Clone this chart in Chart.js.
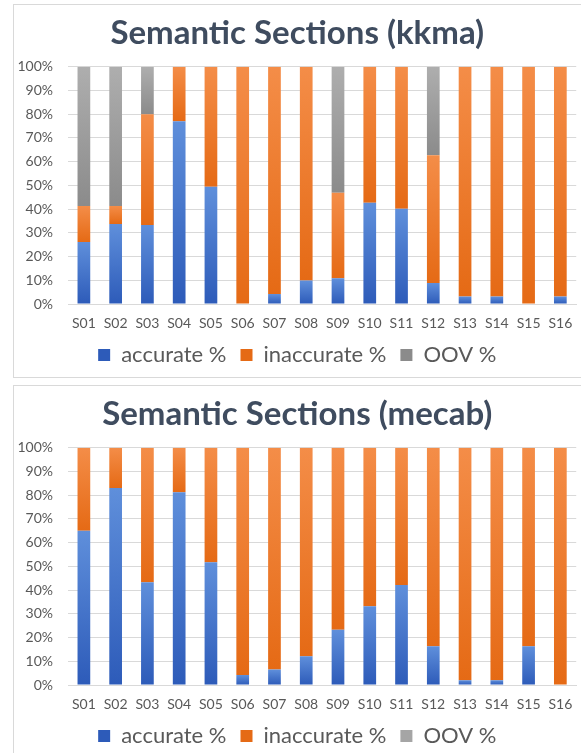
<!DOCTYPE html>
<html>
<head>
<meta charset="utf-8">
<script src="https://cdn.jsdelivr.net/npm/chart.js@4"></script>
<style>
  html, body { margin: 0; padding: 0; background: #ffffff; }
  body { width: 581px; height: 753px; overflow: hidden; position: relative; }
  .panel { position: absolute; left: 13px; width: 572px; border: 1px solid #D9D9D9; background: #ffffff; }
  #p1 { top: 4px; height: 372px; }
  #p2 { top: 385px; height: 380px; }
  .panel canvas { position: absolute; left: 0; top: 0; }
</style>
</head>
<body>
<div class="panel" id="p1"><canvas id="c1" width="570" height="371"></canvas></div>
<div class="panel" id="p2"><canvas id="c2" width="570" height="371"></canvas></div>
<script>
// Section categories
const sections = ['S01', 'S02', 'S03', 'S04', 'S05', 'S06', 'S07', 'S08',
                  'S09', 'S10', 'S11', 'S12', 'S13', 'S14', 'S15', 'S16'];
const seriesNames = ['accurate %', 'inaccurate %', 'OOV %'];

// kkma analyser (percent of tokens per section)
const kkmaAccurate   = [26.1, 33.7, 33.3, 77.0, 49.4, 0, 4.2, 9.9, 10.9, 42.7, 40.1, 8.9, 3.2, 3.2, 0, 3.2];
const kkmaInaccurate = [15.2, 7.6, 46.7, 23.0, 50.6, 100, 95.8, 90.1, 36.0, 57.3, 59.9, 53.8, 96.8, 96.8, 100, 96.8];
const kkmaOov        = [58.7, 58.7, 20.0, 0, 0, 0, 0, 0, 53.1, 0, 0, 37.3, 0, 0, 0, 0];

// mecab analyser
const mecabAccurate   = [65.0, 83.0, 43.3, 81.2, 51.7, 4.2, 6.5, 12.1, 23.3, 33.2, 42.1, 16.3, 2.0, 2.0, 16.3, 0];
const mecabInaccurate = [35.0, 17.0, 56.7, 18.8, 48.3, 95.8, 93.5, 87.9, 76.7, 66.8, 57.9, 83.7, 98.0, 98.0, 83.7, 100];
const mecabOov        = [0, 0, 0, 0, 0, 0, 0, 0, 0, 0, 0, 0, 0, 0, 0, 0];

const TEXT = '#595959';
const GRID = '#D9D9D9';
const FONT = 'Lato';

// each series is shaded lighter at the top of a segment, darker at its base
const palette = [
  { solid: '#4472C4', top: '#5F8FDB', bottom: '#2D5BB9' },
  { solid: '#ED7D31', top: '#F48D48', bottom: '#E56A15' },
  { solid: '#A5A5A5', top: '#AEAEAE', bottom: '#8B8B8B' }
];

function segmentFill(ctx, series) {
  const p = palette[ctx.datasetIndex];
  const chart = ctx.chart;
  if (ctx.type !== 'data' || !chart.chartArea || !chart.scales.y) return p.solid;
  const y = chart.scales.y;
  let base = 0;
  for (let d = 0; d < ctx.datasetIndex; d++) base += series[d][ctx.dataIndex];
  const top = base + series[ctx.datasetIndex][ctx.dataIndex];
  const y0 = y.getPixelForValue(base);
  const y1 = y.getPixelForValue(top);
  if (!isFinite(y0) || !isFinite(y1) || Math.abs(y0 - y1) < 0.5) return p.solid;
  const g = chart.ctx.createLinearGradient(0, y1, 0, y0);
  g.addColorStop(0, p.top);
  g.addColorStop(1, p.bottom);
  return g;
}

function buildChart(canvasId, title, series) {
  return new Chart(document.getElementById(canvasId), {
    type: 'bar',
    data: {
      labels: sections,
      datasets: seriesNames.map((name, i) => ({
        label: name,
        data: series[i],
        backgroundColor: c => segmentFill(c, series),
        borderWidth: 0,
        categoryPercentage: 1,
        barPercentage: 0.4
      }))
    },
    options: {
      responsive: false,
      animation: false,
      devicePixelRatio: 1,
      layout: { padding: { left: 4, right: 7.5, top: 0, bottom: 0 } },
      plugins: {
        title: {
          display: true,
          text: title,
          color: '#3F4C5F',
          font: { family: FONT, size: 33, weight: 'bold' },
          padding: { top: 8.7, bottom: 13.4 }
        },
        legend: {
          position: 'bottom',
          labels: {
            boxWidth: 12,
            boxHeight: 12,
            padding: 14,
            color: TEXT,
            font: { family: FONT, size: 22 }
          }
        },
        tooltip: { enabled: false }
      },
      scales: {
        x: {
          stacked: true,
          grid: { display: false, drawTicks: false },
          border: { display: true, color: GRID },
          ticks: { color: TEXT, font: { family: FONT, size: 14 }, padding: 11.5, maxRotation: 0, autoSkip: false },
          afterFit: s => { s.height = 26; }
        },
        y: {
          stacked: true,
          min: 0,
          max: 100,
          grid: { color: GRID, drawTicks: false },
          border: { display: false },
          ticks: { stepSize: 10, padding: 15, color: TEXT, font: { family: FONT, size: 14 }, callback: v => v + '%' },
          afterFit: s => { s.width = 50; }
        }
      }
    }
  });
}

buildChart('c1', 'Semantic Sections (kkma)', [kkmaAccurate, kkmaInaccurate, kkmaOov]);
buildChart('c2', 'Semantic Sections (mecab)', [mecabAccurate, mecabInaccurate, mecabOov]);
</script>
</body>
</html>
